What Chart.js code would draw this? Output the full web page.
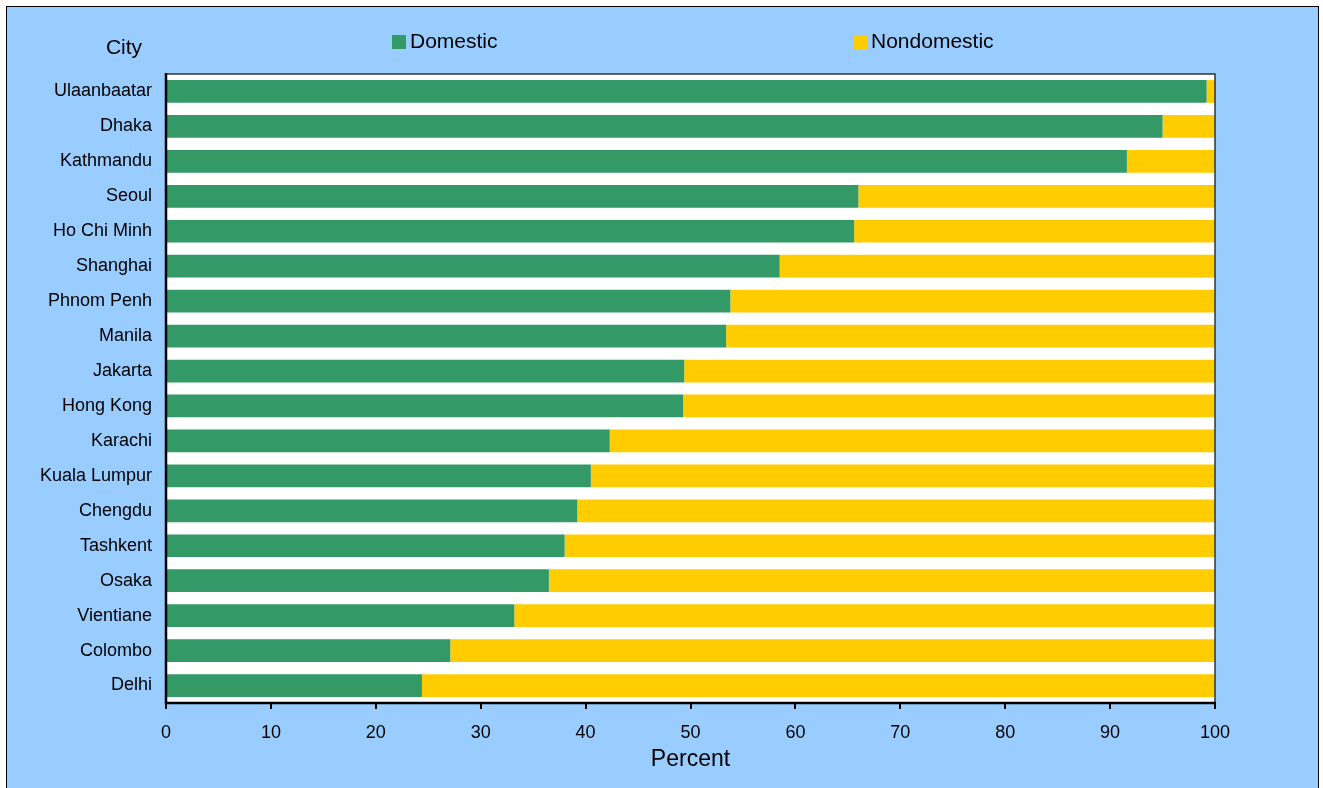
<!DOCTYPE html>
<html>
<head>
<meta charset="utf-8">
<title>Domestic vs nondomestic share by city</title>
<script src="https://cdn.jsdelivr.net/npm/chart.js@4.4.1/dist/chart.umd.min.js"></script>
<style>
  html, body { margin: 0; padding: 0; background: #ffffff; }
  #wrap { width: 1323px; height: 788px; position: relative; }
</style>
</head>
<body>
<div id="wrap"><canvas id="chart" width="1323" height="788"></canvas></div>
<script>
const cities = ['Ulaanbaatar', 'Dhaka', 'Kathmandu', 'Seoul', 'Ho Chi Minh', 'Shanghai', 'Phnom Penh', 'Manila',
    'Jakarta', 'Hong Kong', 'Karachi', 'Kuala Lumpur', 'Chengdu', 'Tashkent', 'Osaka', 'Vientiane', 'Colombo', 'Delhi'];
const domestic = [99.2, 95.0, 91.6, 66.0, 65.6, 58.5, 53.8, 53.4, 49.4, 49.3, 42.3, 40.5, 39.2, 38.0, 36.5, 33.2, 27.1, 24.4];
const nondomestic = [0.8, 5.0, 8.4, 34.0, 34.4, 41.5, 46.2, 46.6, 50.6, 50.7, 57.7, 59.5, 60.8, 62.0, 63.5, 66.8, 72.9, 75.6];
const xTicks = [0, 10, 20, 30, 40, 50, 60, 70, 80, 90, 100];
const seriesNames = ['Domestic', 'Nondomestic'];
const yTitle = 'City';
const xTitle = 'Percent';

const FONT = '"Liberation Sans", Arial, sans-serif';

// background, frame and white plot area
const framePlugin = {
    id: 'frame',
    beforeDraw(chart) {
        const ctx = chart.ctx;
        const a = chart.chartArea;
        ctx.save();
        ctx.fillStyle = '#ffffff';
        ctx.fillRect(0, 0, chart.width, chart.height);
        ctx.fillStyle = '#99ccff';
        ctx.fillRect(6, 6, 1313, chart.height - 6);
        ctx.strokeStyle = '#000000';
        ctx.lineWidth = 1;
        ctx.strokeRect(6.5, 6.5, 1312, chart.height);
        ctx.fillStyle = '#ffffff';
        ctx.fillRect(a.left, a.top, a.right - a.left, a.bottom - a.top);
        ctx.restore();
    },
    afterDatasetsDraw(chart) {
        const ctx = chart.ctx;
        const a = chart.chartArea;
        ctx.save();
        // thin top / right edges
        ctx.strokeStyle = '#333333';
        ctx.lineWidth = 1.5;
        ctx.beginPath();
        ctx.moveTo(a.left, a.top);
        ctx.lineTo(a.right, a.top);
        ctx.lineTo(a.right, a.bottom);
        ctx.stroke();
        // heavy axis lines
        ctx.strokeStyle = '#000000';
        ctx.lineWidth = 2.5;
        ctx.beginPath();
        ctx.moveTo(a.left, a.top - 1);
        ctx.lineTo(a.left, a.bottom);
        ctx.lineTo(a.right + 1, a.bottom);
        ctx.stroke();

        // "City" heading above the labels
        ctx.fillStyle = '#000000';
        ctx.font = '21px ' + FONT;
        ctx.textAlign = 'center';
        ctx.textBaseline = 'middle';
        ctx.fillText(yTitle, 124, 48);

        // legend
        const legendX = [392, 853];
        ctx.font = '21px ' + FONT;
        ctx.textAlign = 'left';
        chart.data.datasets.forEach((ds, i) => {
            ctx.fillStyle = ds.backgroundColor;
            ctx.fillRect(legendX[i], 35, 14, 14);
            ctx.fillStyle = '#000000';
            ctx.fillText(ds.label, legendX[i] + 18, 42);
        });
        ctx.restore();
    }
};

new Chart(document.getElementById('chart'), {
    type: 'bar',
    data: {
        labels: cities,
        datasets: [
            { label: seriesNames[0], data: domestic, backgroundColor: '#339966', barPercentage: 0.65, categoryPercentage: 1 },
            { label: seriesNames[1], data: nondomestic, backgroundColor: '#ffcc00', barPercentage: 0.65, categoryPercentage: 1 }
        ]
    },
    options: {
        indexAxis: 'y',
        responsive: false,
        animation: false,
        layout: { padding: { top: 74, right: 108, left: 0, bottom: 0 } },
        plugins: {
            legend: { display: false },
            tooltip: { enabled: false },
            title: { display: false }
        },
        scales: {
            x: {
                stacked: true,
                min: 0,
                max: 100,
                afterFit(scale) { scale.height = 85; },
                afterBuildTicks(scale) { scale.ticks = xTicks.map(v => ({ value: v })); },
                border: { display: false },
                grid: { drawOnChartArea: false, drawTicks: true, tickLength: 6, color: '#000000', lineWidth: 2 },
                ticks: { color: '#000000', font: { family: FONT, size: 18 }, padding: 13, maxRotation: 0 },
                title: { display: true, text: xTitle, color: '#000000', font: { family: FONT, size: 23 }, padding: { top: 4, bottom: 15 } }
            },
            y: {
                stacked: true,
                afterFit(scale) { scale.width = 166; },
                border: { display: false },
                grid: { display: false, drawTicks: false },
                ticks: { color: '#000000', font: { family: FONT, size: 18 }, padding: 14 }
            }
        }
    },
    plugins: [framePlugin]
});
</script>
</body>
</html>
